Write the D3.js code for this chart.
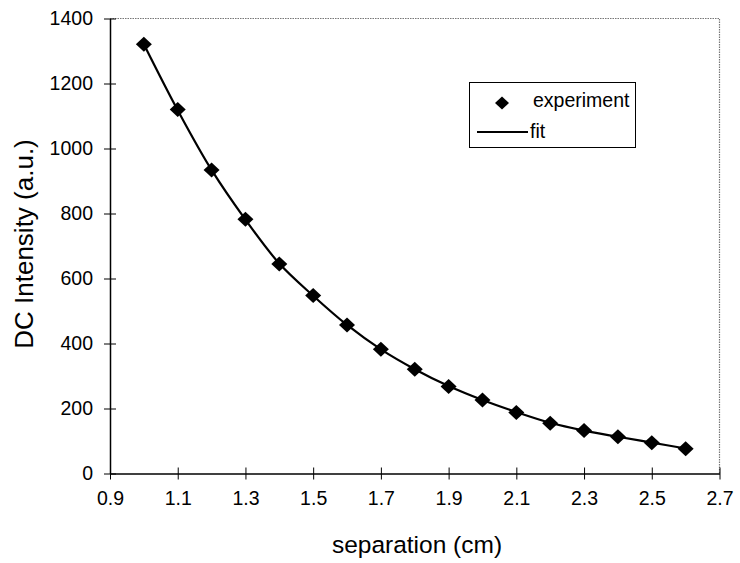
<!DOCTYPE html>
<html>
<head>
<meta charset="utf-8">
<script src="https://cdn.jsdelivr.net/npm/d3@7"></script>
<style>
  html, body { margin: 0; padding: 0; background: #fff; }
  svg { display: block; }
  text { font-family: "Liberation Sans", Arial, Helvetica, sans-serif; fill: #000; }
</style>
</head>
<body>
<svg id="chart" width="740" height="563"></svg>
<script>
// Data
const separation = [1.0, 1.1, 1.2, 1.3, 1.4, 1.5, 1.6, 1.7, 1.8, 1.9, 2.0, 2.1, 2.2, 2.3, 2.4, 2.5, 2.6];
const experiment = [1321, 1120, 934, 782, 645, 548, 457, 382, 321, 268, 226, 188, 155, 132, 113, 95, 76];
const fit        = [1321, 1118, 934, 781, 646, 547, 457, 382, 321, 269, 226, 189, 156, 132, 113, 95, 77];
const xTicks = [0.9, 1.1, 1.3, 1.5, 1.7, 1.9, 2.1, 2.3, 2.5, 2.7];
const yTicks = [0, 200, 400, 600, 800, 1000, 1200, 1400];
const legendLabels = ["experiment", "fit"];
const xTitle = "separation (cm)";
const yTitle = "DC Intensity (a.u.)";

const svg = d3.select("#chart");
const margin = { left: 110, right: 20, top: 18.5, bottom: 89.5 };
const W = 740, H = 563;

const x = d3.scaleLinear().domain([0.9, 2.7]).range([margin.left, W - margin.right - 0.5]);
const y = d3.scaleLinear().domain([0, 1400]).range([H - margin.bottom, margin.top]);

// top & right dotted border
svg.append("path")
  .attr("d", `M${x(0.9)},${y(1400)}H${x(2.7)}V${y(0)}`)
  .attr("fill", "none").attr("stroke", "#777").attr("stroke-width", 1.2)
  .attr("stroke-dasharray", "1.5,1");

// axes
const xAxis = svg.append("g").attr("transform", `translate(0,${y(0)})`)
  .call(d3.axisBottom(x).tickValues(xTicks).tickFormat(d3.format(".1f")).tickSizeInner(6).tickSizeOuter(0).tickPadding(12));
const yAxis = svg.append("g").attr("transform", `translate(${x(0.9)},0)`)
  .call(d3.axisLeft(y).tickValues(yTicks).tickFormat(d3.format("d")).tickSizeInner(6).tickSizeOuter(0).tickPadding(11));

[xAxis, yAxis].forEach(g => {
  g.select(".domain").attr("stroke", "#000").attr("stroke-width", 1.5);
  g.selectAll(".tick line").attr("stroke", "#000").attr("stroke-width", 1);
  g.selectAll(".tick text").attr("font-size", 19.5).attr("font-family", "Liberation Sans, Arial, sans-serif").attr("fill", "#000");
});
// ticks crossing the axis
xAxis.selectAll(".tick line").attr("y1", -6).attr("y2", 6);
yAxis.selectAll(".tick line").attr("x1", -6).attr("x2", 6);
xAxis.selectAll(".tick text").attr("dy", "0.71em");

// axis titles
svg.append("text").attr("x", 417).attr("y", 553).attr("text-anchor", "middle")
  .attr("font-size", 24.5).text(xTitle);
svg.append("text").attr("transform", `translate(33,244) rotate(-90)`)
  .attr("text-anchor", "middle").attr("font-size", 26).text(yTitle);

// fit line
const line = d3.line().x((d, i) => x(separation[i])).y(d => y(d)).curve(d3.curveCatmullRom.alpha(0.5));
svg.append("path").datum(fit).attr("d", line)
  .attr("fill", "none").attr("stroke", "#000").attr("stroke-width", 2.2);

// diamond markers
const diamond = (cx, cy, hw, hh) => `M${cx},${cy - hh}L${cx + hw},${cy}L${cx},${cy + hh}L${cx - hw},${cy}Z`;
svg.append("g").selectAll("path").data(experiment).join("path")
  .attr("d", (d, i) => diamond(x(separation[i]), y(d), 8, 7.5))
  .attr("fill", "#000");

// legend
const lg = svg.append("g");
lg.append("rect").attr("x", 469.5).attr("y", 82.5).attr("width", 166).attr("height", 65)
  .attr("fill", "#fff").attr("stroke", "#000").attr("stroke-width", 1);
lg.append("path").attr("d", diamond(502, 103, 7, 6.5)).attr("fill", "#000");
lg.append("text").attr("x", 533).attr("y", 107).attr("font-size", 19.5).text(legendLabels[0]);
lg.append("line").attr("x1", 477).attr("x2", 528).attr("y1", 132).attr("y2", 132)
  .attr("stroke", "#000").attr("stroke-width", 2);
lg.append("text").attr("x", 530).attr("y", 138).attr("font-size", 19.5).text(legendLabels[1]);
</script>
</body>
</html>
